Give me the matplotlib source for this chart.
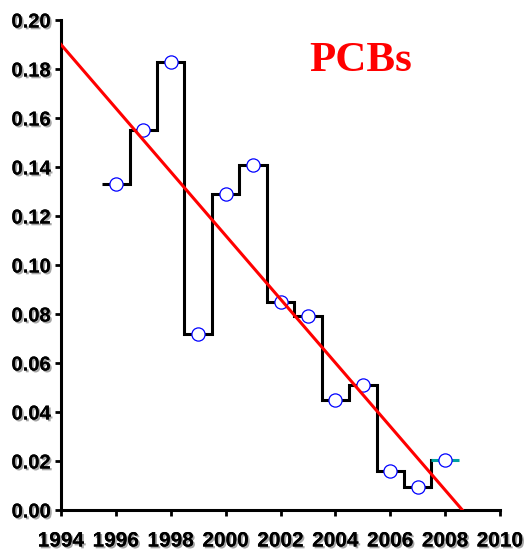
import numpy as np
import matplotlib
matplotlib.use("Agg")
import matplotlib.pyplot as plt
import matplotlib.patheffects as pe

# Annual PCB concentrations
years = [1996, 1997, 1998, 1999, 2000, 2001, 2002, 2003, 2004, 2005, 2006, 2007, 2008]
values = [0.133, 0.155, 0.183, 0.072, 0.129, 0.141, 0.085, 0.079, 0.045, 0.051, 0.016, 0.0094, 0.0205]

x_ticks = [1994, 1996, 1998, 2000, 2002, 2004, 2006, 2008, 2010]
y_ticks = [0.00, 0.02, 0.04, 0.06, 0.08, 0.10, 0.12, 0.14, 0.16, 0.18, 0.20]
title = "PCBs"

yrs = np.array(years, dtype=float)
vals = np.array(values)
edges = np.r_[yrs - 0.5, yrs[-1] + 0.5]

fig = plt.figure(figsize=(5.3, 5.5), dpi=100)
ax = fig.add_axes([61 / 530, 40 / 550, 439 / 530, 490 / 550])

# Centered step trace: black through 2007, last year in teal
ax.stairs(vals[:-1], edges[:-1], baseline=None, color="black", lw=2.2, zorder=2)
ax.plot([edges[-2], edges[-2]], [vals[-2], vals[-1]], color="black", lw=2.2, zorder=2)
ax.stairs(vals[-1:], edges[-2:], baseline=None, color="#00a0a0", lw=2.2, zorder=2)

# Yearly points
ax.plot(yrs, vals, "o", ms=9.5, mfc="white", mec="blue", mew=0.9, zorder=3)

# Linear trend
slope, intercept = np.polyfit(yrs, vals, 1)
xt = np.array([1994, 2010])
ax.plot(xt, slope * xt + intercept, color="red", lw=2.2, zorder=4)

ax.set_xlim(1994, 2010)
ax.set_ylim(0, 0.20)
ax.set_xticks(x_ticks)
ax.set_yticks(y_ticks)
ax.set_yticklabels([f"{v:.2f}" for v in y_ticks])

for s in ["top", "right"]:
    ax.spines[s].set_visible(False)
for s in ["left", "bottom"]:
    ax.spines[s].set_linewidth(2.2)
ax.tick_params(direction="out", length=4.5, width=2)
ax.tick_params(axis="x", pad=11)
ax.tick_params(axis="y", pad=3)

shadow = [pe.withSimplePatchShadow(offset=(1.3, -1.3), shadow_rgbFace="gray", alpha=0.7),
          pe.Normal()]
for lab in ax.get_xticklabels() + ax.get_yticklabels():
    lab.set_fontfamily("Liberation Sans")
    lab.set_fontweight("bold")
    lab.set_fontsize(15)
    lab.set_path_effects(shadow)
for lab in ax.get_yticklabels():
    lab.set_fontsize(14.5)

fig.text(361 / 530, 1 - 61 / 550, title, color="red", fontsize=31, fontweight="bold",
         family="Liberation Serif", ha="center", va="center")

fig.savefig("out.png", dpi=100)
